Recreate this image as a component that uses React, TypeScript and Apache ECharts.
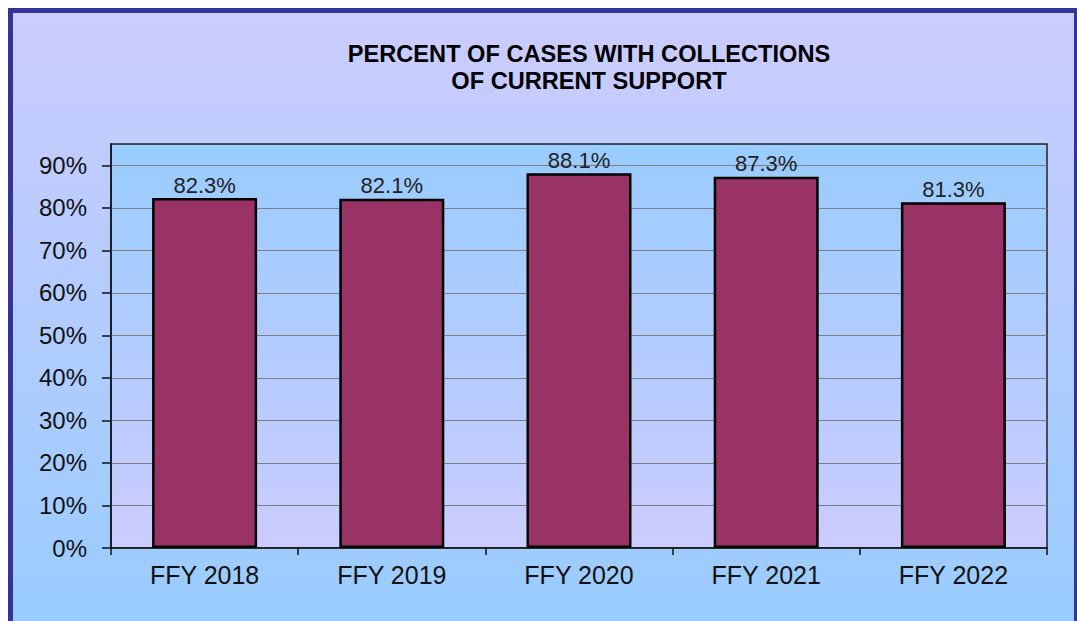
import React, { useEffect, useRef } from "react";
import * as echarts from "echarts";

const categories = ["FFY 2018", "FFY 2019", "FFY 2020", "FFY 2021", "FFY 2022"];
const percentValues = [82.3, 82.1, 88.1, 87.3, 81.3];
const yTickValues = [0, 10, 20, 30, 40, 50, 60, 70, 80, 90];
const titleLines = ["PERCENT OF CASES WITH COLLECTIONS", "OF CURRENT SUPPORT"];

const FONT = "Arial, 'Liberation Sans', sans-serif";

export default function App() {
  const ref = useRef<HTMLDivElement>(null);

  useEffect(() => {
    if (!ref.current) return;
    const chart = echarts.init(ref.current, null, { renderer: "svg" });
    chart.setOption({
      animation: false,
      backgroundColor: "transparent",
      title: {
        text: titleLines.join("\n"),
        left: 571,
        top: 22,
        textAlign: "center",
        textStyle: {
          fontFamily: FONT,
          fontSize: 23.6,
          fontWeight: "bold",
          color: "#000",
          lineHeight: 27,
          align: "center",
        },
      },
      grid: {
        left: 98,
        top: 131,
        width: 936,
        height: 404,
        show: true,
        borderColor: "#222",
        borderWidth: 1.5,
        backgroundColor: new echarts.graphic.LinearGradient(0, 0, 0, 1, [
          { offset: 0, color: "#99CCFF" },
          { offset: 1, color: "#CCCCFF" },
        ]),
      },
      xAxis: {
        type: "category",
        data: categories,
        axisLine: { lineStyle: { color: "#111", width: 1.5 } },
        axisTick: { show: true, length: 7, lineStyle: { color: "#111", width: 1.5 } },
        axisLabel: {
          fontFamily: FONT,
          fontSize: 25,
          color: "#111",
          margin: 14,
        },
      },
      yAxis: {
        type: "value",
        min: 0,
        max: 95,
        interval: 10,
        axisLine: { show: true, lineStyle: { color: "#111", width: 1.5 } },
        axisTick: {
          show: true,
          length: 9,
          customValues: yTickValues,
          lineStyle: { color: "#111", width: 1.5 },
        },
        axisLabel: {
          customValues: yTickValues,
          formatter: (v: number) => `${v}%`,
          fontFamily: FONT,
          fontSize: 24,
          color: "#111",
          margin: 24,
        },
        splitLine: { show: true, lineStyle: { color: "#808080", width: 1.2 } },
      },
      series: [
        {
          type: "bar",
          data: percentValues,
          barWidth: 105,
          itemStyle: { color: "#993366", borderColor: "#000", borderWidth: 2.5 },
          label: {
            show: true,
            position: "top",
            distance: 2,
            formatter: (p: any) => `${p.value.toFixed(1)}%`,
            fontFamily: FONT,
            fontSize: 22,
            color: "#222",
          },
        },
      ],
    });
    return () => chart.dispose();
  }, []);

  return (
    <div
      style={{
        position: "absolute",
        left: 8,
        top: 8,
        width: 1069,
        height: 613,
        boxSizing: "border-box",
        borderTop: "5px solid #333399",
        borderLeft: "5px solid #333399",
        borderRight: "3px solid #333399",
        background: "linear-gradient(to bottom, #CCCCFF 0%, #99CCFF 100%)",
      }}
    >
      <div ref={ref} style={{ width: 1061, height: 608 }} />
    </div>
  );
}
